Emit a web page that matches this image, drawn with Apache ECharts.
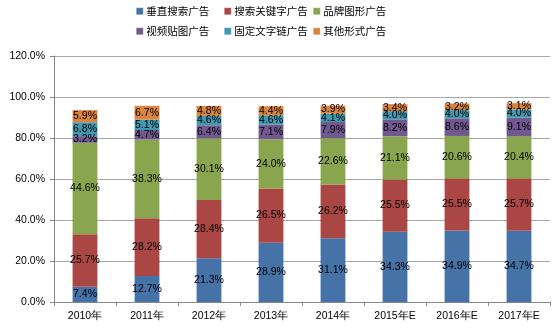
<!DOCTYPE html>
<html>
<head>
<meta charset="utf-8">
<script src="https://cdn.jsdelivr.net/npm/echarts@6/dist/echarts.min.js"></script>
<style>
html,body{margin:0;padding:0;background:#fff;}
#chart{width:555px;height:328px;}
</style>
</head>
<body>
<div id="chart"></div>
<script>
// Years (E = estimate)
var years = ['2010年', '2011年', '2012年', '2013年', '2014年', '2015年E', '2016年E', '2017年E'];

// Share of each ad format, percent
var verticalSearch = [7.4, 12.7, 21.3, 28.9, 31.1, 34.3, 34.9, 34.7];
var keywordSearch  = [25.7, 28.2, 28.4, 26.5, 26.2, 25.5, 25.5, 25.7];
var brandGraphic   = [44.6, 38.3, 30.1, 24.0, 22.6, 21.1, 20.6, 20.4];
var videoPatch     = [3.2, 4.7, 6.4, 7.1, 7.9, 8.2, 8.6, 9.1];
var textLink       = [6.8, 5.1, 4.6, 4.6, 4.1, 4.0, 4.0, 4.0];
var otherFormats   = [5.9, 6.7, 4.8, 4.4, 3.9, 3.4, 3.2, 3.1];

var yTicks = { min: 0, max: 120, interval: 20 };

var seriesDefs = [
  { name: '垂直搜索广告', data: verticalSearch, color: '#4572A7' },
  { name: '搜索关键字广告', data: keywordSearch, color: '#AA4643' },
  { name: '品牌图形广告', data: brandGraphic, color: '#89A54E' },
  { name: '视频贴图广告', data: videoPatch, color: '#71588F' },
  { name: '固定文字链广告', data: textLink, color: '#4198AF' },
  { name: '其他形式广告', data: otherFormats, color: '#DB843D' }
];

// Legend laid out as a 3 x 2 grid
var legendPos = [[136, 6], [224, 6], [313, 6], [136, 26], [224, 26], [313, 26]];

var chart = echarts.init(document.getElementById('chart'));
chart.setOption({
  backgroundColor: '#fff',
  animation: false,
  legend: seriesDefs.map(function (s, i) {
    return {
      data: [s.name],
      left: legendPos[i][0],
      top: legendPos[i][1],
      icon: 'rect',
      itemWidth: 7,
      itemHeight: 7,
      itemGap: 0,
      padding: 0,
      itemStyle: { borderColor: 'rgba(255,255,255,0.6)', borderWidth: 0.5 },
      textStyle: { fontFamily: 'Noto Sans CJK SC', fontSize: 10.5, color: '#000', padding: [0, 0, 0, -2] }
    };
  }),
  grid: { left: 54, right: 5, top: 56, bottom: 26 },
  xAxis: {
    type: 'category',
    data: years,
    axisLine: { lineStyle: { color: '#888', width: 1 } },
    axisTick: { show: true, alignWithLabel: false, length: 4, lineStyle: { color: '#888' } },
    axisLabel: { margin: 9, fontFamily: 'Liberation Sans', fontSize: 10.5, color: '#000' }
  },
  yAxis: {
    type: 'value',
    min: yTicks.min,
    max: yTicks.max,
    interval: yTicks.interval,
    axisLine: { show: true, lineStyle: { color: '#888', width: 1 } },
    axisTick: { show: true, length: 4, lineStyle: { color: '#888' } },
    axisLabel: {
      margin: 9,
      fontFamily: 'Liberation Sans',
      fontSize: 10.5,
      color: '#000',
      formatter: function (v) { return v.toFixed(1) + '%'; }
    },
    splitLine: { lineStyle: { color: '#a8a8a8', width: 1 } }
  },
  series: seriesDefs.map(function (s) {
    return {
      name: s.name,
      type: 'bar',
      stack: 'total',
      barWidth: '40%',
      data: s.data,
      itemStyle: { color: s.color },
      label: {
        show: true,
        position: 'inside',
        color: '#000',
        fontFamily: 'Liberation Sans',
        fontSize: 10.5,
        formatter: function (p) { return p.value.toFixed(1) + '%'; }
      }
    };
  })
});
</script>
</body>
</html>
